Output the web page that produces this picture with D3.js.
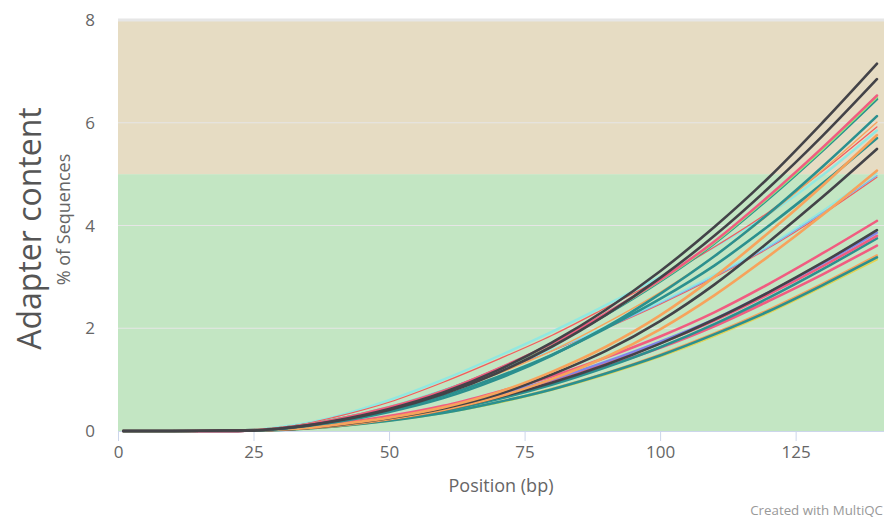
<!DOCTYPE html>
<html>
<head>
<meta charset="utf-8">
<script src="https://cdn.jsdelivr.net/npm/d3@7"></script>
<style>
  html, body { margin: 0; padding: 0; background: #fff; }
  svg { display: block; font-family: "Open Sans", "DejaVu Sans", sans-serif; }
</style>
</head>
<body>
<svg id="chart" width="892" height="525"></svg>
<script>
// Read positions (bp) shared by every sample
const positions = [1, 10, 20, 25, 30, 35, 40, 50, 60, 70, 80, 90, 100, 110, 120, 130, 140];

// Cumulative adapter content (% of sequences) per sample
const sampleNames = [
  "S01", "S02", "S03", "S04", "S05", "S06", "S07", "S08", "S09", "S10", "S11", "S12", "S13",
  "S14", "S15", "S16", "S17", "S18", "S19", "S20", "S21", "S22", "S23", "S24", "S25", "S26"
];
const s01 = [0, 0, 0.01, 0.01, 0.05, 0.11, 0.20, 0.43, 0.75, 1.18, 1.72, 2.36, 3.11, 3.97, 4.93, 6.01, 7.15];
const s02 = [0, 0, 0.01, 0.01, 0.05, 0.11, 0.19, 0.41, 0.72, 1.13, 1.64, 2.26, 2.98, 3.80, 4.73, 5.75, 6.85];
const s03 = [0, 0, 0.01, 0.02, 0.06, 0.13, 0.22, 0.46, 0.78, 1.21, 1.70, 2.29, 2.94, 3.69, 4.57, 5.52, 6.53];
const s04 = [0, 0, 0.01, 0.02, 0.06, 0.13, 0.22, 0.46, 0.78, 1.20, 1.69, 2.28, 2.93, 3.67, 4.55, 5.49, 6.50];
const s05 = [0, 0, 0.01, 0.02, 0.06, 0.13, 0.22, 0.45, 0.78, 1.20, 1.68, 2.26, 2.91, 3.65, 4.52, 5.46, 6.46];
const s06 = [0, 0, 0.01, 0.01, 0.04, 0.10, 0.17, 0.37, 0.64, 1.01, 1.47, 2.02, 2.67, 3.40, 4.23, 5.15, 6.13];
const s07 = [0, 0, 0.01, 0.02, 0.05, 0.12, 0.20, 0.42, 0.72, 1.11, 1.56, 2.10, 2.70, 3.40, 4.21, 5.08, 6.01];
const s08 = [0, 0, 0.01, 0.02, 0.07, 0.15, 0.27, 0.56, 0.95, 1.39, 1.86, 2.40, 2.96, 3.58, 4.26, 5.06, 5.92];
const s09 = [0, 0, 0.01, 0.02, 0.08, 0.16, 0.28, 0.60, 1.00, 1.45, 1.93, 2.45, 3.00, 3.58, 4.22, 4.98, 5.85];
const s10 = [0, 0, 0.01, 0.01, 0.03, 0.06, 0.12, 0.26, 0.46, 0.75, 1.15, 1.64, 2.25, 3.00, 3.86, 4.78, 5.76];
const s11 = [0, 0, 0.01, 0.02, 0.05, 0.11, 0.19, 0.40, 0.68, 1.05, 1.48, 2.00, 2.57, 3.22, 3.99, 4.82, 5.70];
const s12 = [0, 0, 0.01, 0.01, 0.03, 0.06, 0.11, 0.25, 0.44, 0.71, 1.10, 1.56, 2.14, 2.85, 3.68, 4.56, 5.49];
const s13 = [0, 0, 0.01, 0.01, 0.03, 0.06, 0.10, 0.23, 0.41, 0.66, 1.01, 1.44, 1.98, 2.64, 3.40, 4.21, 5.07];
const s14 = [0, 0, 0.01, 0.02, 0.06, 0.13, 0.23, 0.48, 0.80, 1.18, 1.58, 2.03, 2.51, 3.04, 3.61, 4.29, 5.02];
const s15 = [0, 0, 0.01, 0.02, 0.06, 0.13, 0.22, 0.47, 0.80, 1.17, 1.57, 2.01, 2.49, 3.01, 3.58, 4.25, 4.97];
const s16 = [0, 0, 0.01, 0.02, 0.06, 0.13, 0.22, 0.47, 0.79, 1.16, 1.56, 2.00, 2.47, 2.99, 3.56, 4.22, 4.94];
const s17 = [0, 0, 0.00, 0.01, 0.04, 0.08, 0.14, 0.29, 0.49, 0.76, 1.06, 1.43, 1.84, 2.31, 2.86, 3.46, 4.09];
const s18 = [0, 0, 0.00, 0.01, 0.03, 0.06, 0.11, 0.23, 0.41, 0.65, 0.94, 1.29, 1.70, 2.17, 2.70, 3.28, 3.91];
const s19 = [0, 0, 0.00, 0.01, 0.03, 0.08, 0.13, 0.27, 0.46, 0.71, 1.00, 1.35, 1.74, 2.18, 2.70, 3.26, 3.86];
const s20 = [0, 0, 0.00, 0.01, 0.03, 0.08, 0.13, 0.27, 0.46, 0.70, 0.99, 1.33, 1.71, 2.15, 2.66, 3.21, 3.80];
const s21 = [0, 0, 0.00, 0.01, 0.03, 0.06, 0.11, 0.23, 0.39, 0.62, 0.90, 1.24, 1.63, 2.08, 2.59, 3.15, 3.75];
const s22 = [0, 0, 0.00, 0.01, 0.03, 0.07, 0.12, 0.25, 0.43, 0.67, 0.94, 1.26, 1.62, 2.04, 2.53, 3.05, 3.61];
const s23 = [0, 0, 0.00, 0.01, 0.02, 0.05, 0.09, 0.20, 0.35, 0.56, 0.81, 1.12, 1.47, 1.88, 2.33, 2.84, 3.38];
const s24 = [0, 0, 0.00, 0.01, 0.02, 0.05, 0.09, 0.20, 0.35, 0.55, 0.80, 1.10, 1.45, 1.85, 2.30, 2.81, 3.34];
const s25 = [0, 0, 0.00, 0.01, 0.02, 0.05, 0.09, 0.20, 0.35, 0.55, 0.81, 1.11, 1.46, 1.86, 2.32, 2.82, 3.36];
const s26 = [0, 0, 0.00, 0.01, 0.02, 0.05, 0.09, 0.21, 0.36, 0.56, 0.82, 1.13, 1.49, 1.90, 2.36, 2.87, 3.42];
const sampleValues = [s01, s02, s03, s04, s05, s06, s07, s08, s09, s10, s11, s12, s13,
                      s14, s15, s16, s17, s18, s19, s20, s21, s22, s23, s24, s25, s26];

// Line colour and weight per sample
const sampleColors = [
  "#434348", "#434348", "#f15c80", "#90ed7d", "#2b908f", "#2b908f", "#f7a35c", "#f45b5b", "#91e8e1",
  "#f7a35c", "#2b908f", "#434348", "#f7a35c", "#91e8e1", "#7cb5ec", "#f45b5b",
  "#f15c80", "#434348", "#8085e9", "#f15c80", "#2b908f", "#f15c80", "#2b908f", "#e4d354", "#90ed7d", "#f7a35c"
];
const sampleWidths = [
  2.6, 2.6, 2.6, 2.6, 2.6, 2.6, 1.4, 1.2, 2.4, 2.6, 2.6, 2.6, 2.6, 1.6, 1.4, 1.2,
  2.6, 2.6, 2.2, 2.6, 2.6, 2.6, 2.6, 2.2, 2.2, 2.2
];

// Axis ticks and shaded bands
const xTicks = [0, 25, 50, 75, 100, 125];
const yTicks = [0, 2, 4, 6, 8];
const bands = [
  { from: 0, to: 5, color: "#c3e6c3" },
  { from: 5, to: 8, color: "#e6dcc3" }
];

const svg = d3.select("#chart");
const plotLeft = 118, plotRight = 884, plotTop = 20, plotBottom = 431;

const x = d3.scaleLinear().domain([0, 141.3]).range([plotLeft, plotRight]);
const y = d3.scaleLinear().domain([0, 8]).range([plotBottom, plotTop]);

// Background bands
svg.append("g").selectAll("rect").data(bands).join("rect")
  .attr("x", plotLeft).attr("width", plotRight - plotLeft)
  .attr("y", d => y(d.to)).attr("height", d => y(d.from) - y(d.to))
  .attr("fill", d => d.color);

// Horizontal grid lines
svg.append("g").selectAll("line").data(yTicks.filter(t => t > 0)).join("line")
  .attr("x1", plotLeft).attr("x2", plotRight)
  .attr("y1", d => y(d)).attr("y2", d => y(d))
  .attr("stroke", "#e6e6e6").attr("stroke-width", d => d === 8 ? 3 : 1.2);

// Y tick labels
svg.append("g").selectAll("text").data(yTicks).join("text")
  .attr("x", 95).attr("y", d => y(d)).attr("dy", "0.36em")
  .attr("text-anchor", "end").attr("fill", "#666").attr("font-size", 17)
  .text(d => d);

// X axis
const xAxis = d3.axisBottom(x).tickValues(xTicks).tickSize(10).tickPadding(5);
const gx = svg.append("g").attr("transform", `translate(0,${plotBottom})`).call(xAxis);
gx.select(".domain").attr("stroke", "#ccd6eb").attr("d", `M${plotLeft},0.5H${plotRight}`);
gx.selectAll(".tick line").attr("stroke", "#ccd6eb");
gx.selectAll(".tick text").attr("fill", "#666").attr("font-size", 17)
  .attr("font-family", "'Open Sans', sans-serif");

// Sample lines
const line = d3.line()
  .x((d, i) => x(positions[i]))
  .y(d => y(d))
  .curve(d3.curveMonotoneX);

svg.append("g").attr("fill", "none").attr("stroke-linejoin", "round").attr("stroke-linecap", "round")
  .selectAll("path").data(sampleValues.map((v, i) => ({ name: sampleNames[i], v, i })).reverse())
  .join("path")
  .attr("d", d => line(d.v))
  .attr("stroke", d => sampleColors[d.i])
  .attr("stroke-width", d => sampleWidths[d.i]);

// Titles
svg.append("text")
  .attr("transform", `translate(41,${(plotTop + plotBottom) / 2 + 3}) rotate(-90)`)
  .attr("text-anchor", "middle").attr("fill", "#555").attr("font-size", 32)
  .text("Adapter content");
svg.append("text")
  .attr("transform", `translate(70,${(plotTop + plotBottom) / 2 - 6}) rotate(-90)`)
  .attr("text-anchor", "middle").attr("fill", "#666").attr("font-size", 18)
  .text("% of Sequences");
svg.append("text")
  .attr("x", (plotLeft + plotRight) / 2).attr("y", 492)
  .attr("text-anchor", "middle").attr("fill", "#666").attr("font-size", 18)
  .text("Position (bp)");
svg.append("text")
  .attr("x", 883).attr("y", 515)
  .attr("text-anchor", "end").attr("fill", "#999").attr("font-size", 13.3)
  .text("Created with MultiQC");
</script>
</body>
</html>
